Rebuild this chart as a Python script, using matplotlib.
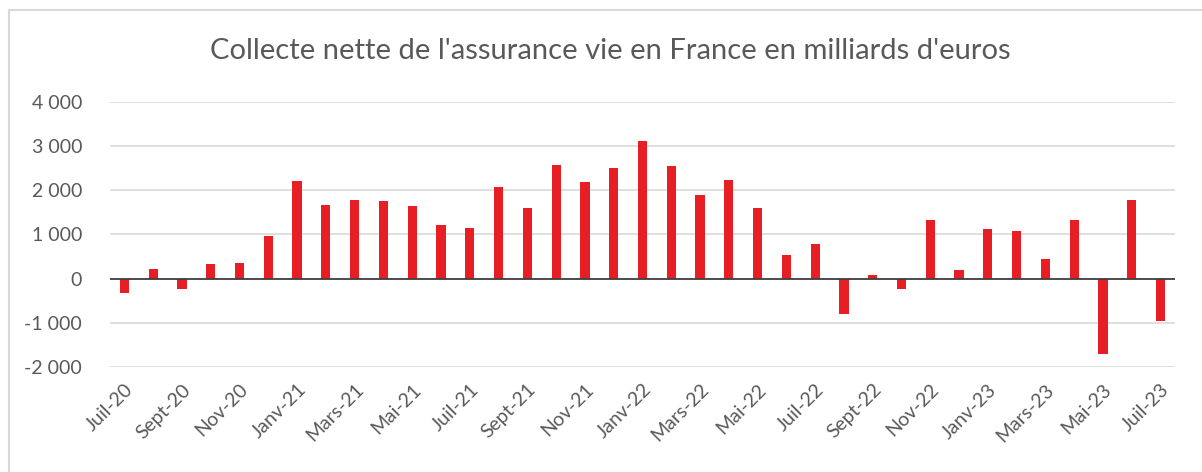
import matplotlib
matplotlib.use('Agg')
import matplotlib.pyplot as plt
from matplotlib.patches import Rectangle
from matplotlib.ticker import FuncFormatter

plt.rcParams['font.family'] = ['Lato', 'DejaVu Sans']

# Monthly net inflows (Juil-20 .. Juil-23)
months = [
    'Juil-20', 'Août-20', 'Sept-20', 'Oct-20', 'Nov-20', 'Déc-20',
    'Janv-21', 'Févr-21', 'Mars-21', 'Avr-21', 'Mai-21', 'Juin-21',
    'Juil-21', 'Août-21', 'Sept-21', 'Oct-21', 'Nov-21', 'Déc-21',
    'Janv-22', 'Févr-22', 'Mars-22', 'Avr-22', 'Mai-22', 'Juin-22',
    'Juil-22', 'Août-22', 'Sept-22', 'Oct-22', 'Nov-22', 'Déc-22',
    'Janv-23', 'Févr-23', 'Mars-23', 'Avr-23', 'Mai-23', 'Juin-23',
    'Juil-23',
]
collecte = [
    -330, 226, -240, 339, 346, 972,
    2207, 1672, 1785, 1755, 1650, 1220,
    1145, 2079, 1605, 2576, 2192, 2508,
    3119, 2554, 1883, 2230, 1605, 535,
    776, -799, 90, -241, 1326, 188,
    1115, 1077, 452, 1326, -1702, 1778,
    -957,
]

grey_txt = '#595959'

fig = plt.figure(figsize=(12.02, 4.72), dpi=100)
ax = fig.add_axes([0.0915, 0.2225, 0.886, 0.5615])

x = list(range(len(months)))
ax.bar(x, collecte, width=0.32, color='#E81E25', zorder=3)

ax.set_xlim(-0.5, len(months) - 0.5)
ax.set_ylim(-2000, 4000)
ax.set_yticks([-2000, -1000, 0, 1000, 2000, 3000, 4000])
ax.yaxis.set_major_formatter(FuncFormatter(lambda v, p: f"{int(v):,}".replace(',', ' ')))
ax.grid(axis='y', color='#D9D9D9', linewidth=1.2, zorder=0)
ax.axhline(0, color='#404040', linewidth=1.3, zorder=4)

ax.set_xticks(x[::2])
ax.set_xticklabels(months[::2], rotation=45, ha='right', rotation_mode='anchor')
ax.tick_params(axis='both', length=0, labelsize=14, colors=grey_txt)
ax.tick_params(axis='x', pad=10)
ax.tick_params(axis='y', pad=20)

for s in ax.spines.values():
    s.set_visible(False)

fig.text(0.508, 0.893, "Collecte nette de l'assurance vie en France en milliards d'euros",
         ha='center', va='center', fontsize=21, color=grey_txt)

# chart frame (only left and top edges fall inside the image)
fig.patches.append(Rectangle((0.0075, -0.1), 1.1, 1.079, transform=fig.transFigure,
                             fill=False, edgecolor='#D9D9D9', linewidth=1.5))

fig.savefig('out.png', dpi=100)
